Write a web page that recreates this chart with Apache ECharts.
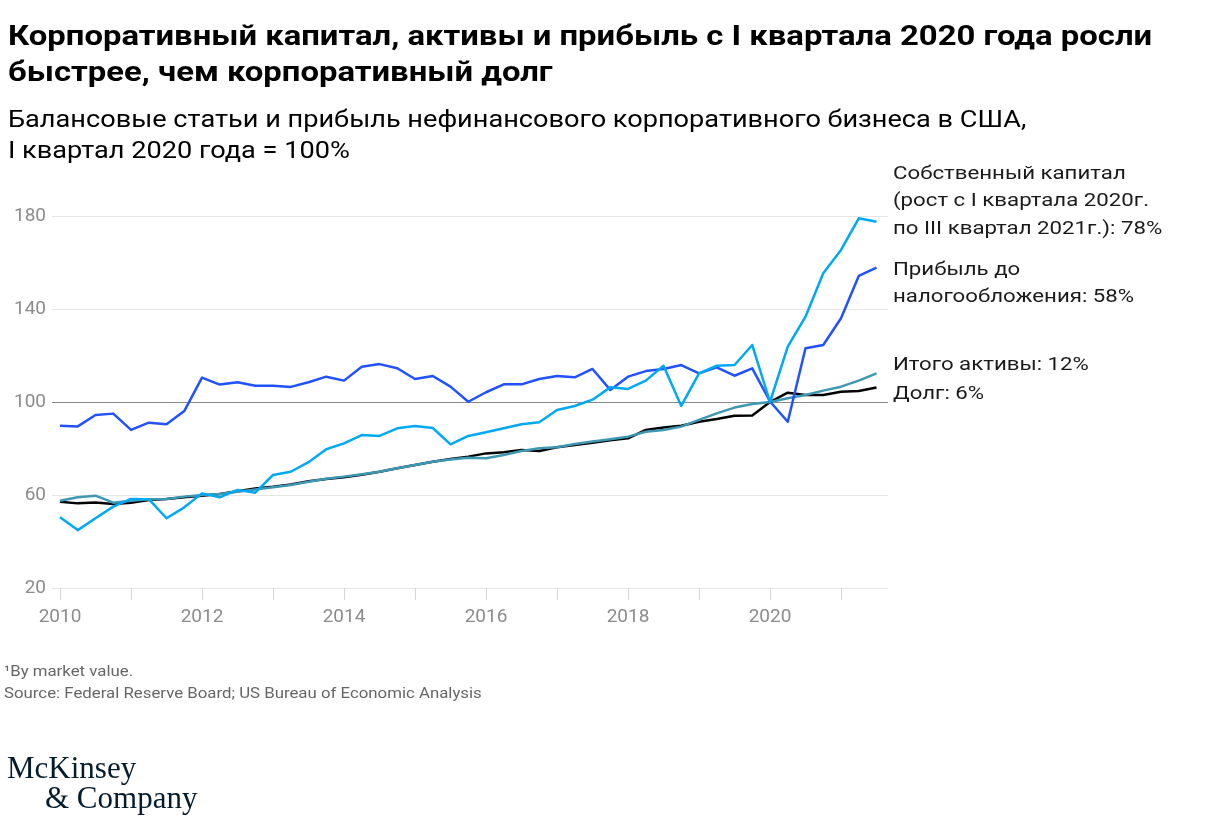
<!DOCTYPE html>
<html>
<head>
<meta charset="utf-8">
<script src="https://cdn.jsdelivr.net/npm/echarts@6/dist/echarts.min.js"></script>
<style>
  html, body { margin: 0; padding: 0; background: #fff; }
  #chart { width: 1206px; height: 831px; }
</style>
</head>
<body>
<div id="chart"></div>
<script>
// quarterly points, I кв. 2010 .. III кв. 2021
const startYear = 2010;

const equity = [
  50.4, 44.9, 50, 55, 58.3, 58.2, 50, 54.7, 60.7, 59, 62.2, 61,
  68.6, 70, 74.1, 79.7, 82.2, 85.8, 85.4, 88.7, 89.7, 88.8, 81.8, 85.4,
  87, 88.7, 90.4, 91.3, 96.6, 98.3, 101, 106.3, 105.6, 109.2, 115.6, 98.3,
  112.3, 115.6, 115.9, 124.5, 100, 123.8, 136.7, 155.4, 165.4, 179, 177.5,
];
const profit = [
  89.8, 89.5, 94.4, 95, 88, 91.1, 90.4, 96.1, 110.5, 107.5, 108.5, 107,
  107, 106.5, 108.5, 110.9, 109.2, 115.2, 116.3, 114.5, 109.9, 111.2, 106.6, 100.1,
  104.2, 107.6, 107.6, 109.9, 111.2, 110.6, 114.2, 105.2, 110.9, 113.3, 114.2, 115.9,
  112.3, 114.9, 111.3, 114.5, 100.2, 91.5, 123.1, 124.5, 136, 154.2, 157.8,
];
const assets = [
  57.5, 59, 59.7, 56.7, 57.5, 58.2, 58.3, 59.3, 60, 60.4, 61.4, 62.4,
  63.3, 64.3, 65.7, 67, 67.9, 68.9, 70, 71.5, 72.9, 74.3, 75.3, 76,
  75.8, 77.2, 78.9, 80.1, 80.5, 81.9, 83, 84, 85.1, 87.2, 88, 89.4,
  92.3, 95.1, 97.6, 99.1, 100, 101.6, 103, 104.9, 106.6, 109.2, 112.3,
];
const debt = [
  57.1, 56.4, 56.8, 56.1, 56.7, 57.8, 58.3, 59, 59.7, 60.4, 61.6, 62.8,
  63.5, 64.5, 65.9, 66.9, 67.6, 68.7, 70, 71.5, 72.9, 74.3, 75.5, 76.5,
  77.9, 78.4, 79.4, 78.9, 80.5, 81.5, 82.5, 83.5, 84.4, 88, 89, 89.8,
  91.5, 92.7, 94.1, 94.2, 100, 104, 103, 103, 104.4, 104.7, 106.2,
];

const yearTicks = [2010, 2011, 2012, 2013, 2014, 2015, 2016, 2017, 2018, 2019, 2020, 2021];
const yearLabels = [2010, 2012, 2014, 2016, 2018, 2020];

const FONT = 'Roboto, "Noto Sans", sans-serif';
const LOGO_FONT = '31px "Liberation Serif", "DejaVu Serif", serif';

function toPoints(values) {
  return values.map((v, i) => [startYear + i / 4, v]);
}

function lineSeries(name, values, color, z) {
  return {
    name,
    type: 'line',
    data: toPoints(values),
    symbol: 'none',
    z,
    lineStyle: { color, width: 2.5, join: 'round' },
  };
}

// the reference type is set a little wider than Roboto, hence scaleX
function text(x, y, str, font, fill, lineHeight, scaleX) {
  return {
    type: 'text',
    x,
    y,
    scaleX: scaleX || 1,
    style: {
      text: str, font, fill, lineHeight, textBaseline: 'top',
    },
  };
}

const chart = echarts.init(document.getElementById('chart'));

const annotations = [
  { y: 160, text: 'Собственный капитал\n(рост с I квартала 2020г.\nпо III квартал 2021г.): 78%' },
  { y: 256, text: 'Прибыль до\nналогообложения: 58%' },
  { y: 351, text: 'Итого активы: 12%' },
  { y: 380, text: 'Долг: 6%' },
];

const option = {
  animation: false,
  grid: {
    left: 52, right: 318, top: 216, bottom: 243,
  },
  xAxis: {
    type: 'value',
    min: 2010 - 8 / 71,
    max: 2010 + (888 - 60) / 71,
    axisLine: { show: false },
    splitLine: { show: false },
    axisTick: {
      show: true,
      customValues: yearTicks,
      length: 12,
      lineStyle: { color: '#d6d6d6', width: 1 },
    },
    axisLabel: {
      customValues: yearLabels,
      formatter: v => String(Math.round(v)),
      color: '#8c8c8c',
      fontFamily: FONT,
      fontSize: 19,
      margin: 20,
    },
  },
  yAxis: {
    type: 'value',
    min: 20,
    max: 180,
    interval: 40,
    axisLine: { show: false },
    axisTick: { show: false },
    axisLabel: {
      color: '#8c8c8c',
      fontFamily: FONT,
      fontSize: 19,
      margin: 6,
    },
    splitLine: {
      lineStyle: {
        color: ['#e6e6e6', '#e6e6e6', '#8a8a8a', '#e6e6e6', '#e6e6e6'],
        width: 1,
      },
    },
  },
  series: [
    lineSeries('Долг', debt, '#000000', 2),
    lineSeries('Итого активы', assets, '#3e98b3', 3),
    lineSeries('Прибыль до налогообложения', profit, '#2251ff', 4),
    lineSeries('Собственный капитал', equity, '#00a9f4', 5),
  ],
  graphic: [
    text(8, 20, 'Корпоративный капитал, активы и прибыль с I квартала 2020 года росли\nбыстрее, чем корпоративный долг',
      `bold 28px ${FONT}`, '#000', 36, 1.173),
    text(8, 106, 'Балансовые статьи и прибыль нефинансового корпоративного бизнеса в США,\nI квартал 2020 года = 100%',
      `23px ${FONT}`, '#000', 31, 1.18),
    ...annotations.map(a => text(893, a.y, a.text, `19px ${FONT}`, '#1a1a1a', 27.5, 1.17)),
    text(4, 661, '¹By market value.\nSource: Federal Reserve Board; US Bureau of Economic Analysis',
      `14px ${FONT}`, '#666', 22, 1.2),
    text(7, 754, 'McKinsey', LOGO_FONT, '#051c2c', 31, 1),
    text(45, 784, '& Company', LOGO_FONT, '#051c2c', 31, 1),
  ],
};

chart.setOption(option);
</script>
</body>
</html>
